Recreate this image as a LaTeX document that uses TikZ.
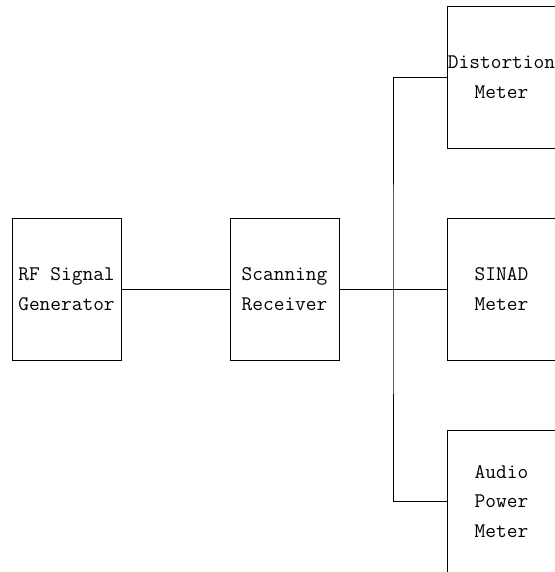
\documentclass[tikz,border=0pt]{standalone}
\usepackage{tikz}
\usetikzlibrary{positioning,calc}

\begin{document}
\begin{tikzpicture}[x=1pt,y=-1pt,
    unit/.style={draw, line width=0.9pt, minimum width=109pt, minimum height=142pt,
      align=center, inner sep=0pt, font=\ttfamily\fontsize{20.8}{29.5}\selectfont},
    wire/.style={line width=0.9pt}]
    \useasboundingbox (0,0) rectangle (554,572);

    % Source and receiver
    \node[unit] (rfgen) at (66.5,289) {RF Signal\\Generator};
    \node[unit] (scanrx) at (284.5,289) {Scanning\\Receiver};

    % Meters on the right
    \node[unit] (distm) at (501.5,77) {Distortion\\Meter};
    \node[unit] (sinad) at (501.5,289) {SINAD\\Meter};
    \node[unit] (audiopm) at (501.5,501.5) {Audio\\Power\\Meter};

    % Wiring
    \coordinate (bus) at (393,289);
    \draw[wire] (rfgen.east) -- (scanrx.west);
    \draw[wire] (scanrx.east) -- (sinad.west);
    \draw[wire] (distm.west) -| (bus) |- (audiopm.west);
  \end{tikzpicture}
\end{document}
